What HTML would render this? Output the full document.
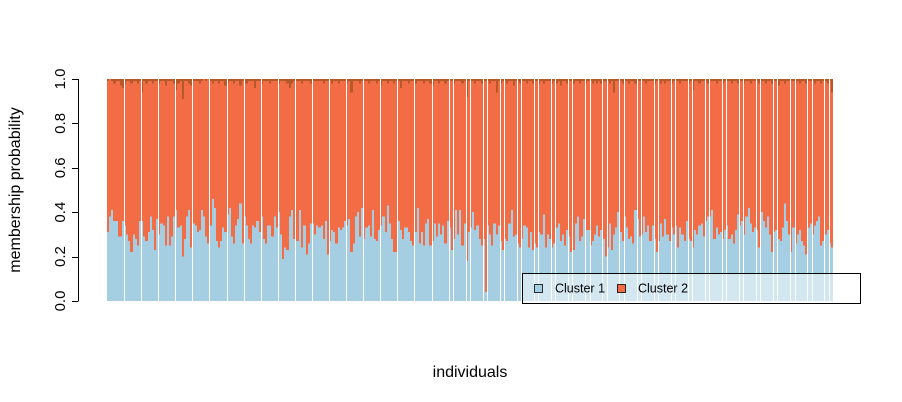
<!DOCTYPE html>
<html><head><meta charset="utf-8"><style>
html,body{margin:0;padding:0;background:#fff;}
svg{display:block;font-family:"Liberation Sans",sans-serif;}
</style></head><body>
<svg id="chart" width="902" height="402" viewBox="0 0 902 402" xmlns="http://www.w3.org/2000/svg">
<g id="bars" shape-rendering="crispEdges"></g>
<g id="gaps" shape-rendering="crispEdges"></g>
<g id="yaxis"></g>
<text x="0" y="0" transform="translate(20,190) rotate(-90)" text-anchor="middle" font-size="16" fill="#000">membership probability</text>
<text x="470" y="377" text-anchor="middle" font-size="16" fill="#000">individuals</text>
<g>
<rect x="522.5" y="273.5" width="338" height="30" fill="rgba(255,255,255,0.5)" stroke="#000" stroke-width="1"/>
<rect x="534.5" y="284.5" width="8" height="8" fill="#a6cee3" stroke="#000" stroke-width="0.8"/>
<text x="555" y="292.5" font-size="12.5" fill="#000">Cluster 1</text>
<rect x="617.5" y="284.5" width="8" height="8" fill="#f26c45" stroke="#000" stroke-width="0.8"/>
<text x="638" y="292.5" font-size="12.5" fill="#000">Cluster 2</text>
</g>
</svg>
<script>
const cluster1 = [
0.31,0.38,0.41,0.36,0.36,0.29,0.29,0.36,0.34,0.30,
0.27,0.22,0.30,0.28,0.25,0.36,0.36,0.29,0.27,0.31,
0.38,0.32,0.23,0.37,0.30,0.35,0.34,0.25,0.38,0.25,
0.29,0.38,0.41,0.33,0.34,0.20,0.28,0.38,0.41,0.24,
0.35,0.34,0.31,0.32,0.41,0.38,0.29,0.26,0.34,0.46,
0.42,0.27,0.24,0.27,0.33,0.31,0.39,0.42,0.29,0.26,
0.34,0.37,0.44,0.26,0.38,0.34,0.28,0.26,0.34,0.33,
0.36,0.31,0.38,0.28,0.26,0.34,0.34,0.29,0.38,0.33,
0.40,0.30,0.19,0.24,0.23,0.38,0.41,0.28,0.27,0.27,
0.41,0.24,0.34,0.21,0.26,0.35,0.35,0.30,0.34,0.33,
0.34,0.28,0.36,0.21,0.27,0.32,0.31,0.26,0.33,0.32,
0.33,0.36,0.34,0.37,0.22,0.26,0.38,0.40,0.29,0.42,
0.28,0.33,0.34,0.29,0.41,0.28,0.27,0.32,0.34,0.38,
0.31,0.43,0.35,0.28,0.22,0.22,0.36,0.32,0.28,0.33,
0.33,0.31,0.27,0.25,0.31,0.42,0.26,0.31,0.25,0.35,
0.37,0.25,0.27,0.35,0.29,0.35,0.30,0.34,0.26,0.36,
0.33,0.23,0.28,0.41,0.30,0.41,0.25,0.35,0.18,0.31,
0.33,0.40,0.32,0.34,0.28,0.25,0.28,0.04,0.34,0.30,
0.25,0.35,0.30,0.34,0.27,0.23,0.28,0.27,0.35,0.41,
0.29,0.30,0.26,0.24,0.28,0.34,0.33,0.24,0.31,0.23,
0.26,0.24,0.31,0.30,0.39,0.24,0.30,0.28,0.24,0.26,
0.33,0.35,0.27,0.30,0.25,0.32,0.29,0.22,0.23,0.35,
0.38,0.27,0.29,0.37,0.32,0.32,0.25,0.27,0.30,0.34,
0.29,0.32,0.28,0.20,0.24,0.35,0.23,0.30,0.33,0.40,
0.31,0.27,0.38,0.33,0.28,0.29,0.26,0.41,0.37,0.29,
0.30,0.38,0.31,0.34,0.27,0.34,0.28,0.22,0.27,0.35,
0.29,0.37,0.30,0.27,0.33,0.30,0.34,0.24,0.33,0.30,
0.27,0.36,0.28,0.27,0.24,0.32,0.30,0.34,0.35,0.29,
0.36,0.38,0.38,0.41,0.28,0.33,0.30,0.31,0.28,0.32,
0.34,0.28,0.30,0.26,0.32,0.39,0.34,0.36,0.30,0.38,
0.42,0.35,0.31,0.33,0.32,0.24,0.40,0.36,0.33,0.38,
0.30,0.22,0.31,0.32,0.28,0.27,0.33,0.44,0.36,0.30,
0.22,0.33,0.26,0.30,0.32,0.27,0.25,0.21,0.33,0.35,
0.30,0.34,0.36,0.38,0.25,0.27,0.30,0.32,0.26,0.24
];
const cluster3 = [
0.01,0.00,0.01,0.02,0.01,0.01,0.03,0.04,0.02,0.01,
0.01,0.02,0.01,0.01,0.02,0.01,0.06,0.01,0.02,0.01,
0.01,0.02,0.01,0.01,0.02,0.01,0.01,0.03,0.01,0.01,
0.01,0.02,0.05,0.02,0.01,0.09,0.01,0.01,0.02,0.03,
0.01,0.01,0.01,0.02,0.01,0.00,0.01,0.00,0.01,0.02,
0.01,0.01,0.02,0.01,0.01,0.03,0.02,0.01,0.01,0.02,
0.01,0.01,0.03,0.01,0.02,0.02,0.01,0.01,0.01,0.04,
0.01,0.01,0.02,0.01,0.01,0.01,0.02,0.01,0.01,0.01,
0.02,0.01,0.01,0.01,0.02,0.04,0.02,0.01,0.01,0.01,
0.01,0.02,0.01,0.01,0.01,0.02,0.01,0.01,0.01,0.01,
0.01,0.02,0.01,0.01,0.01,0.02,0.01,0.01,0.02,0.01,
0.01,0.01,0.02,0.01,0.06,0.01,0.01,0.01,0.02,0.01,
0.01,0.01,0.02,0.01,0.01,0.01,0.02,0.01,0.03,0.01,
0.01,0.02,0.01,0.01,0.02,0.01,0.01,0.04,0.01,0.01,
0.01,0.02,0.01,0.01,0.02,0.01,0.01,0.01,0.02,0.01,
0.01,0.02,0.03,0.01,0.01,0.02,0.01,0.01,0.02,0.01,
0.01,0.01,0.02,0.01,0.01,0.01,0.02,0.01,0.08,0.01,
0.01,0.01,0.02,0.01,0.01,0.02,0.01,0.01,0.01,0.02,
0.01,0.01,0.06,0.01,0.02,0.01,0.01,0.02,0.01,0.01,
0.03,0.01,0.01,0.02,0.01,0.01,0.02,0.01,0.01,0.02,
0.01,0.01,0.02,0.01,0.02,0.01,0.01,0.01,0.02,0.01,
0.02,0.01,0.03,0.01,0.01,0.02,0.01,0.01,0.02,0.01,
0.01,0.02,0.01,0.01,0.02,0.01,0.01,0.02,0.01,0.02,
0.01,0.02,0.01,0.01,0.01,0.02,0.01,0.06,0.01,0.01,
0.01,0.02,0.01,0.01,0.02,0.01,0.01,0.02,0.01,0.01,
0.01,0.01,0.02,0.01,0.01,0.01,0.02,0.01,0.01,0.02,
0.01,0.02,0.01,0.01,0.02,0.01,0.01,0.01,0.02,0.01,
0.01,0.01,0.02,0.01,0.05,0.01,0.01,0.02,0.01,0.01,
0.01,0.02,0.01,0.01,0.01,0.02,0.01,0.01,0.02,0.01,
0.01,0.01,0.02,0.01,0.01,0.02,0.01,0.01,0.02,0.01,
0.01,0.02,0.01,0.01,0.01,0.02,0.01,0.01,0.02,0.01,
0.01,0.02,0.01,0.01,0.03,0.01,0.01,0.02,0.01,0.01,
0.01,0.01,0.02,0.01,0.02,0.01,0.01,0.02,0.01,0.01,
0.01,0.02,0.01,0.01,0.02,0.01,0.01,0.02,0.01,0.06
];
const yTicks = [0, 0.2, 0.4, 0.6, 0.8, 1.0];
const yTickLabels = ["0.0","0.2","0.4","0.6","0.8","1.0"];

const NS = "http://www.w3.org/2000/svg";
const X0 = 107, X1 = 833, Y0 = 301, Y1 = 79;
const n = cluster1.length;
function xPos(i){ return Math.round(X0 + i*(X1-X0)/n); }
function yPos(v){ return Y0 - v*(Y0-Y1); }
const barsG = document.getElementById('bars');
const gapsG = document.getElementById('gaps');
function rect(g,x,y,w,h,fill){
  const r=document.createElementNS(NS,'rect');
  r.setAttribute('x',x);r.setAttribute('y',y);r.setAttribute('width',w);r.setAttribute('height',h);r.setAttribute('fill',fill);
  g.appendChild(r);return r;
}
for(let i=0;i<n;i++){
  const x=xPos(i), w=xPos(i+1)-x;
  const c1=cluster1[i], c3=cluster3[i], c2=1-c1-c3;
  const a=rect(barsG,x,yPos(c1),w,yPos(0)-yPos(c1),'#a6cee3');
  
  
  const b=rect(barsG,x,yPos(c1+c2),w,yPos(c1)-yPos(c1+c2),'#f26c45');
  
  
  const c=rect(barsG,x,yPos(1),w,yPos(c1+c2)-yPos(1),'#b5582a');
  
  
  if(i>0 && (i%8===0 || (i>160 && i%8===2))){
    const g=rect(gapsG,x,Y1,1,Y0-Y1,'#ffffff');
    
    
  }
}
const ax=document.getElementById('yaxis');
function line(x1,y1,x2,y2){
  const l=document.createElementNS(NS,'line');
  l.setAttribute('x1',x1);l.setAttribute('y1',y1);l.setAttribute('x2',x2);l.setAttribute('y2',y2);
  l.setAttribute('stroke','#000');l.setAttribute('stroke-width','1');ax.appendChild(l);return l;
}
const al=line(78.5,yPos(0),78.5,yPos(1));


yTicks.forEach((v,k)=>{
  const t=line(72,Math.round(yPos(v))+0.5,78.5,Math.round(yPos(v))+0.5);
  
  
  const tx=document.createElementNS(NS,'text');
  
  
  tx.setAttribute('transform','translate(65,'+yPos(v)+') rotate(-90)');
  tx.setAttribute('text-anchor','middle');
  tx.setAttribute('font-size','15');
  tx.textContent=yTickLabels[k];
  ax.appendChild(tx);
});
</script>
</body></html>
